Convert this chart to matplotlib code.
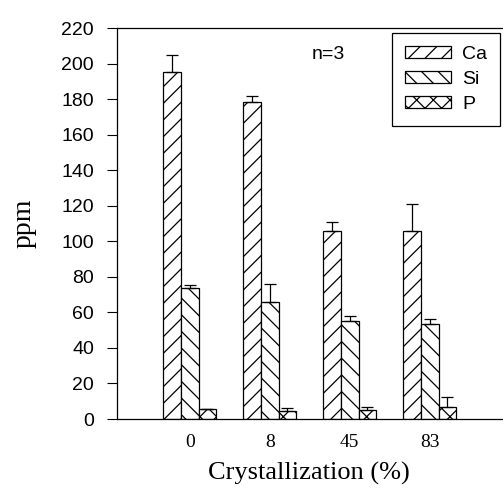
import numpy as np
import matplotlib.pyplot as plt

# Crystallization levels (%)
groups = ['0', '8', '45', '83']

# mean concentrations (ppm) and upper error
ca = [195, 178.5, 105.5, 106]
ca_err = [10, 3, 5.5, 15]
si = [73.5, 65.7, 55.3, 53.5]
si_err = [2, 10, 2.8, 2.8]
p = [5.4, 4.7, 4.9, 6.9]
p_err = [0.4, 1.5, 2, 5.3]

yticks = [0, 20, 40, 60, 80, 100, 120, 140, 160, 180, 200, 220]

fig = plt.figure(figsize=(5.03, 4.90), dpi=100)
ax = fig.add_axes([117 / 503, 1 - 419 / 490, 386 / 503, 391 / 490])

x = np.arange(len(groups))
w = 0.22
plt.rcParams['hatch.linewidth'] = 0.9

series = [(ca, ca_err, '//', 'Ca', -w), (si, si_err, '\\\\', 'Si', 0), (p, p_err, 'xx', 'P', w)]
for vals, err, hatch, name, off in series:
    ax.bar(x + off, vals, w, color='white', edgecolor='black', hatch=hatch,
           linewidth=0.9, label=name, zorder=2)
    ax.errorbar(x + off, vals, yerr=[np.zeros(len(vals)), err], fmt='none',
                ecolor='black', elinewidth=0.9, capsize=4.5, capthick=0.9, zorder=3)

ax.set_xlim(-0.91, 3.915)
ax.set_ylim(0, 220)
ax.set_yticks(yticks)
ax.set_xticks(x)
ax.set_xticklabels(groups, family='Liberation Serif', fontsize=14)
for t in ax.get_yticklabels():
    t.set_family('Liberation Sans')
    t.set_fontsize(14)
ax.tick_params(axis='y', direction='out', length=7.5, width=0.8, pad=9)
ax.tick_params(axis='x', length=0, pad=11)
ax.spines['right'].set_visible(False)
for s in ['left', 'top', 'bottom']:
    ax.spines[s].set_linewidth(0.9)

ax.set_xlabel('Crystallization (%)', family='Liberation Serif', fontsize=19)
ax.xaxis.set_label_coords(0.496, -0.11)
ax.set_ylabel('ppm', family='Liberation Serif', fontsize=20)
ax.yaxis.set_label_coords(-0.207, 0.5)

ax.text(1.73, 205, 'n=3', family='Liberation Sans', fontsize=14, ha='center', va='center')

leg = fig.legend(loc='upper left', bbox_to_anchor=(392 / 503, 1 - 33 / 490),
                 prop={'family': 'Liberation Sans', 'size': 14},
                 handlelength=2.4, handleheight=0.55, fancybox=False,
                 edgecolor='black', framealpha=1, borderaxespad=0,
                 borderpad=0.65, labelspacing=0.42, handletextpad=0.55)
leg.get_frame().set_linewidth(0.9)

fig.savefig('out.png', dpi=100)
